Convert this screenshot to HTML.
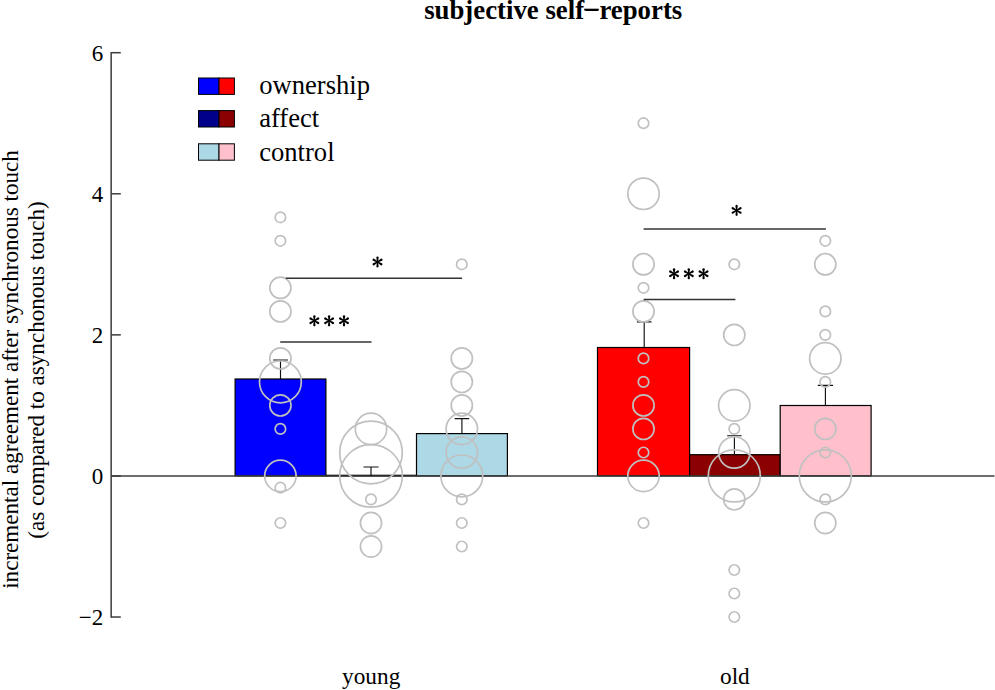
<!DOCTYPE html>
<html><head><meta charset="utf-8"><title>subjective self-reports</title>
<style>
html,body{margin:0;padding:0;background:#fff;}
body{width:995px;height:690px;overflow:hidden;font-family:"Liberation Serif",serif;}
svg{display:block;position:absolute;left:0;top:0;}
text{font-family:"Liberation Serif",serif;fill:#000;}
</style></head><body>
<svg width="995" height="690" viewBox="0 0 995 690">
<rect width="995" height="690" fill="#fff"/>
<text x="553.2" y="18.8" font-size="26.8" font-weight="bold" text-anchor="middle">subjective self−reports</text>
<rect x="584.2" y="8.7" width="14.6" height="1.8" fill="#000"/>
<text transform="translate(17.5,369.5) rotate(-90)" font-size="23.1" text-anchor="middle">incremental agreement after synchronous touch</text>
<text transform="translate(44.4,370.0) rotate(-90)" font-size="23.1" text-anchor="middle">(as compared to asynchonous touch)</text>
<g stroke="#3c3c3c" stroke-width="1.5" fill="none"><path d="M111.15,51.96 V617.78"/><path d="M111.15,52.71 H120.8"/><path d="M111.15,193.79 H120.8"/><path d="M111.15,334.87 H120.8"/><path d="M111.15,475.95 H120.8"/><path d="M111.15,617.03 H120.8"/></g>
<text x="103.3" y="60.6" font-size="23" text-anchor="end">6</text><text x="103.3" y="201.7" font-size="23" text-anchor="end">4</text><text x="103.3" y="342.8" font-size="23" text-anchor="end">2</text><text x="103.3" y="483.8" font-size="23" text-anchor="end">0</text><text x="103.3" y="624.9" font-size="23" text-anchor="end">−2</text>
<rect x="235.1" y="379.0" width="90.8" height="96.9" fill="#0000ff" stroke="#000" stroke-width="1.2"/><rect x="325.9" y="475.3" width="90.6" height="0.6" fill="#00008b" stroke="#000" stroke-width="1.2"/><rect x="416.5" y="433.6" width="90.9" height="42.3" fill="#add8e6" stroke="#000" stroke-width="1.2"/><rect x="597.5" y="347.5" width="92.1" height="128.4" fill="#ff0000" stroke="#000" stroke-width="1.2"/><rect x="689.6" y="454.7" width="90.6" height="21.2" fill="#8b0000" stroke="#000" stroke-width="1.2"/><rect x="780.2" y="405.5" width="90.9" height="70.4" fill="#ffc0cb" stroke="#000" stroke-width="1.2"/>
<path d="M111.15,475.95 H994.5" stroke="#3c3c3c" stroke-width="1.5" fill="none"/>
<g stroke="#111" stroke-width="1.15" fill="none"><path d="M280.5,379.0 V360.0 M273.1,360.0 H287.9"/><path d="M371.0,476.0 V467.0 M363.5,467.0 H378.5"/><path d="M461.9,433.6 V418.6 M454.6,418.6 H469.2"/><path d="M644.2,347.5 V321.8 M636.9,321.8 H651.5"/><path d="M734.4,454.7 V435.7 M727.2,435.7 H741.6"/><path d="M825.4,405.5 V385.4 M817.8,385.4 H833.0"/></g>
<g stroke="#c0c0c0" stroke-width="1.7" fill="none"><circle cx="280.4" cy="217.3" r="5.25"/><circle cx="280.4" cy="240.8" r="5.25"/><circle cx="280.4" cy="287.8" r="10.6"/><circle cx="280.4" cy="311.4" r="10.6"/><circle cx="280.4" cy="358.4" r="10.6"/><circle cx="280.4" cy="381.9" r="20.9"/><circle cx="280.4" cy="405.4" r="10.6"/><circle cx="280.4" cy="428.9" r="5.25"/><circle cx="280.4" cy="475.9" r="15.7"/><circle cx="280.4" cy="487.7" r="5.25"/><circle cx="280.4" cy="523.0" r="5.25"/><circle cx="371.0" cy="428.9" r="15.7"/><circle cx="371.0" cy="452.5" r="31.3"/><circle cx="371.0" cy="475.9" r="31.3"/><circle cx="371.0" cy="499.4" r="5.25"/><circle cx="371.0" cy="523.0" r="10.6"/><circle cx="371.0" cy="546.5" r="10.6"/><circle cx="461.8" cy="264.3" r="5.25"/><circle cx="461.8" cy="358.4" r="10.6"/><circle cx="461.8" cy="381.9" r="10.6"/><circle cx="461.8" cy="405.4" r="10.6"/><circle cx="461.8" cy="428.9" r="15.7"/><circle cx="461.8" cy="452.5" r="15.7"/><circle cx="461.8" cy="475.9" r="20.9"/><circle cx="461.8" cy="499.4" r="5.25"/><circle cx="461.8" cy="523.0" r="5.25"/><circle cx="461.8" cy="546.5" r="5.25"/><circle cx="643.5" cy="123.2" r="5.25"/><circle cx="643.5" cy="193.8" r="15.7"/><circle cx="643.5" cy="264.3" r="10.6"/><circle cx="643.5" cy="287.8" r="5.25"/><circle cx="643.5" cy="311.4" r="10.6"/><circle cx="643.5" cy="358.4" r="5.25"/><circle cx="643.5" cy="381.9" r="5.25"/><circle cx="643.5" cy="405.4" r="10.6"/><circle cx="643.5" cy="428.9" r="10.6"/><circle cx="643.5" cy="452.5" r="5.25"/><circle cx="643.5" cy="475.9" r="15.7"/><circle cx="643.5" cy="523.0" r="5.25"/><circle cx="734.3" cy="264.3" r="5.25"/><circle cx="734.3" cy="334.9" r="10.6"/><circle cx="734.3" cy="405.4" r="15.7"/><circle cx="734.3" cy="428.9" r="5.25"/><circle cx="734.3" cy="452.5" r="15.7"/><circle cx="734.3" cy="475.9" r="26.0"/><circle cx="734.3" cy="499.4" r="10.6"/><circle cx="734.3" cy="570.0" r="5.25"/><circle cx="734.3" cy="593.5" r="5.25"/><circle cx="734.3" cy="617.0" r="5.25"/><circle cx="825.3" cy="240.8" r="5.25"/><circle cx="825.3" cy="264.3" r="10.6"/><circle cx="825.3" cy="311.4" r="5.25"/><circle cx="825.3" cy="334.9" r="5.25"/><circle cx="825.3" cy="358.4" r="15.7"/><circle cx="825.3" cy="381.9" r="5.25"/><circle cx="825.3" cy="428.9" r="10.6"/><circle cx="825.3" cy="452.5" r="5.25"/><circle cx="825.3" cy="475.9" r="26.0"/><circle cx="825.3" cy="499.4" r="5.25"/><circle cx="825.3" cy="523.0" r="10.6"/></g>
<g stroke="#333" stroke-width="1.5" fill="none"><path d="M285.8,278.2 H462.1"/><path d="M280.2,342.0 H371.5"/><path d="M643.6,229.1 H825.9"/><path d="M643.6,299.5 H735.4"/></g>
<g fill="#000"><g transform="translate(377.50,262.00) rotate(0)"><path d="M-0.55,0 L-1.15,-4.45 A1.15,1.15 0 1 1 1.15,-4.45 L0.55,0 Z"/></g><g transform="translate(377.50,262.00) rotate(60)"><path d="M-0.55,0 L-1.15,-4.45 A1.15,1.15 0 1 1 1.15,-4.45 L0.55,0 Z"/></g><g transform="translate(377.50,262.00) rotate(120)"><path d="M-0.55,0 L-1.15,-4.45 A1.15,1.15 0 1 1 1.15,-4.45 L0.55,0 Z"/></g><g transform="translate(377.50,262.00) rotate(180)"><path d="M-0.55,0 L-1.15,-4.45 A1.15,1.15 0 1 1 1.15,-4.45 L0.55,0 Z"/></g><g transform="translate(377.50,262.00) rotate(240)"><path d="M-0.55,0 L-1.15,-4.45 A1.15,1.15 0 1 1 1.15,-4.45 L0.55,0 Z"/></g><g transform="translate(377.50,262.00) rotate(300)"><path d="M-0.55,0 L-1.15,-4.45 A1.15,1.15 0 1 1 1.15,-4.45 L0.55,0 Z"/></g><circle cx="377.50" cy="262.00" r="1.25"/><g transform="translate(314.35,320.80) rotate(0)"><path d="M-0.55,0 L-1.15,-4.45 A1.15,1.15 0 1 1 1.15,-4.45 L0.55,0 Z"/></g><g transform="translate(314.35,320.80) rotate(60)"><path d="M-0.55,0 L-1.15,-4.45 A1.15,1.15 0 1 1 1.15,-4.45 L0.55,0 Z"/></g><g transform="translate(314.35,320.80) rotate(120)"><path d="M-0.55,0 L-1.15,-4.45 A1.15,1.15 0 1 1 1.15,-4.45 L0.55,0 Z"/></g><g transform="translate(314.35,320.80) rotate(180)"><path d="M-0.55,0 L-1.15,-4.45 A1.15,1.15 0 1 1 1.15,-4.45 L0.55,0 Z"/></g><g transform="translate(314.35,320.80) rotate(240)"><path d="M-0.55,0 L-1.15,-4.45 A1.15,1.15 0 1 1 1.15,-4.45 L0.55,0 Z"/></g><g transform="translate(314.35,320.80) rotate(300)"><path d="M-0.55,0 L-1.15,-4.45 A1.15,1.15 0 1 1 1.15,-4.45 L0.55,0 Z"/></g><circle cx="314.35" cy="320.80" r="1.25"/><g transform="translate(329.10,320.80) rotate(0)"><path d="M-0.55,0 L-1.15,-4.45 A1.15,1.15 0 1 1 1.15,-4.45 L0.55,0 Z"/></g><g transform="translate(329.10,320.80) rotate(60)"><path d="M-0.55,0 L-1.15,-4.45 A1.15,1.15 0 1 1 1.15,-4.45 L0.55,0 Z"/></g><g transform="translate(329.10,320.80) rotate(120)"><path d="M-0.55,0 L-1.15,-4.45 A1.15,1.15 0 1 1 1.15,-4.45 L0.55,0 Z"/></g><g transform="translate(329.10,320.80) rotate(180)"><path d="M-0.55,0 L-1.15,-4.45 A1.15,1.15 0 1 1 1.15,-4.45 L0.55,0 Z"/></g><g transform="translate(329.10,320.80) rotate(240)"><path d="M-0.55,0 L-1.15,-4.45 A1.15,1.15 0 1 1 1.15,-4.45 L0.55,0 Z"/></g><g transform="translate(329.10,320.80) rotate(300)"><path d="M-0.55,0 L-1.15,-4.45 A1.15,1.15 0 1 1 1.15,-4.45 L0.55,0 Z"/></g><circle cx="329.10" cy="320.80" r="1.25"/><g transform="translate(344.00,320.80) rotate(0)"><path d="M-0.55,0 L-1.15,-4.45 A1.15,1.15 0 1 1 1.15,-4.45 L0.55,0 Z"/></g><g transform="translate(344.00,320.80) rotate(60)"><path d="M-0.55,0 L-1.15,-4.45 A1.15,1.15 0 1 1 1.15,-4.45 L0.55,0 Z"/></g><g transform="translate(344.00,320.80) rotate(120)"><path d="M-0.55,0 L-1.15,-4.45 A1.15,1.15 0 1 1 1.15,-4.45 L0.55,0 Z"/></g><g transform="translate(344.00,320.80) rotate(180)"><path d="M-0.55,0 L-1.15,-4.45 A1.15,1.15 0 1 1 1.15,-4.45 L0.55,0 Z"/></g><g transform="translate(344.00,320.80) rotate(240)"><path d="M-0.55,0 L-1.15,-4.45 A1.15,1.15 0 1 1 1.15,-4.45 L0.55,0 Z"/></g><g transform="translate(344.00,320.80) rotate(300)"><path d="M-0.55,0 L-1.15,-4.45 A1.15,1.15 0 1 1 1.15,-4.45 L0.55,0 Z"/></g><circle cx="344.00" cy="320.80" r="1.25"/><g transform="translate(736.60,210.40) rotate(0)"><path d="M-0.55,0 L-1.15,-4.45 A1.15,1.15 0 1 1 1.15,-4.45 L0.55,0 Z"/></g><g transform="translate(736.60,210.40) rotate(60)"><path d="M-0.55,0 L-1.15,-4.45 A1.15,1.15 0 1 1 1.15,-4.45 L0.55,0 Z"/></g><g transform="translate(736.60,210.40) rotate(120)"><path d="M-0.55,0 L-1.15,-4.45 A1.15,1.15 0 1 1 1.15,-4.45 L0.55,0 Z"/></g><g transform="translate(736.60,210.40) rotate(180)"><path d="M-0.55,0 L-1.15,-4.45 A1.15,1.15 0 1 1 1.15,-4.45 L0.55,0 Z"/></g><g transform="translate(736.60,210.40) rotate(240)"><path d="M-0.55,0 L-1.15,-4.45 A1.15,1.15 0 1 1 1.15,-4.45 L0.55,0 Z"/></g><g transform="translate(736.60,210.40) rotate(300)"><path d="M-0.55,0 L-1.15,-4.45 A1.15,1.15 0 1 1 1.15,-4.45 L0.55,0 Z"/></g><circle cx="736.60" cy="210.40" r="1.25"/><g transform="translate(674.05,273.75) rotate(0)"><path d="M-0.55,0 L-1.15,-4.45 A1.15,1.15 0 1 1 1.15,-4.45 L0.55,0 Z"/></g><g transform="translate(674.05,273.75) rotate(60)"><path d="M-0.55,0 L-1.15,-4.45 A1.15,1.15 0 1 1 1.15,-4.45 L0.55,0 Z"/></g><g transform="translate(674.05,273.75) rotate(120)"><path d="M-0.55,0 L-1.15,-4.45 A1.15,1.15 0 1 1 1.15,-4.45 L0.55,0 Z"/></g><g transform="translate(674.05,273.75) rotate(180)"><path d="M-0.55,0 L-1.15,-4.45 A1.15,1.15 0 1 1 1.15,-4.45 L0.55,0 Z"/></g><g transform="translate(674.05,273.75) rotate(240)"><path d="M-0.55,0 L-1.15,-4.45 A1.15,1.15 0 1 1 1.15,-4.45 L0.55,0 Z"/></g><g transform="translate(674.05,273.75) rotate(300)"><path d="M-0.55,0 L-1.15,-4.45 A1.15,1.15 0 1 1 1.15,-4.45 L0.55,0 Z"/></g><circle cx="674.05" cy="273.75" r="1.25"/><g transform="translate(688.80,273.75) rotate(0)"><path d="M-0.55,0 L-1.15,-4.45 A1.15,1.15 0 1 1 1.15,-4.45 L0.55,0 Z"/></g><g transform="translate(688.80,273.75) rotate(60)"><path d="M-0.55,0 L-1.15,-4.45 A1.15,1.15 0 1 1 1.15,-4.45 L0.55,0 Z"/></g><g transform="translate(688.80,273.75) rotate(120)"><path d="M-0.55,0 L-1.15,-4.45 A1.15,1.15 0 1 1 1.15,-4.45 L0.55,0 Z"/></g><g transform="translate(688.80,273.75) rotate(180)"><path d="M-0.55,0 L-1.15,-4.45 A1.15,1.15 0 1 1 1.15,-4.45 L0.55,0 Z"/></g><g transform="translate(688.80,273.75) rotate(240)"><path d="M-0.55,0 L-1.15,-4.45 A1.15,1.15 0 1 1 1.15,-4.45 L0.55,0 Z"/></g><g transform="translate(688.80,273.75) rotate(300)"><path d="M-0.55,0 L-1.15,-4.45 A1.15,1.15 0 1 1 1.15,-4.45 L0.55,0 Z"/></g><circle cx="688.80" cy="273.75" r="1.25"/><g transform="translate(703.55,273.75) rotate(0)"><path d="M-0.55,0 L-1.15,-4.45 A1.15,1.15 0 1 1 1.15,-4.45 L0.55,0 Z"/></g><g transform="translate(703.55,273.75) rotate(60)"><path d="M-0.55,0 L-1.15,-4.45 A1.15,1.15 0 1 1 1.15,-4.45 L0.55,0 Z"/></g><g transform="translate(703.55,273.75) rotate(120)"><path d="M-0.55,0 L-1.15,-4.45 A1.15,1.15 0 1 1 1.15,-4.45 L0.55,0 Z"/></g><g transform="translate(703.55,273.75) rotate(180)"><path d="M-0.55,0 L-1.15,-4.45 A1.15,1.15 0 1 1 1.15,-4.45 L0.55,0 Z"/></g><g transform="translate(703.55,273.75) rotate(240)"><path d="M-0.55,0 L-1.15,-4.45 A1.15,1.15 0 1 1 1.15,-4.45 L0.55,0 Z"/></g><g transform="translate(703.55,273.75) rotate(300)"><path d="M-0.55,0 L-1.15,-4.45 A1.15,1.15 0 1 1 1.15,-4.45 L0.55,0 Z"/></g><circle cx="703.55" cy="273.75" r="1.25"/></g>
<rect x="198.5" y="78.0" width="20.5" height="16.4" fill="#0000ff" stroke="#000" stroke-width="1"/><rect x="219" y="78.0" width="15.4" height="16.4" fill="#ff0000" stroke="#000" stroke-width="1"/><text x="259.2" y="93.9" font-size="26.6">ownership</text>
<rect x="198.5" y="110.6" width="20.5" height="16.4" fill="#00008b" stroke="#000" stroke-width="1"/><rect x="219" y="110.6" width="15.4" height="16.4" fill="#8b0000" stroke="#000" stroke-width="1"/><text x="259.2" y="127.4" font-size="26.6">affect</text>
<rect x="198.5" y="143.8" width="20.5" height="16.4" fill="#add8e6" stroke="#000" stroke-width="1"/><rect x="219" y="143.8" width="15.4" height="16.4" fill="#ffc0cb" stroke="#000" stroke-width="1"/><text x="259.2" y="160.9" font-size="26.6">control</text>
<text x="371.2" y="684.1" font-size="23.3" text-anchor="middle">young</text><text x="734.9" y="684.1" font-size="23.3" text-anchor="middle">old</text>
</svg></body></html>
